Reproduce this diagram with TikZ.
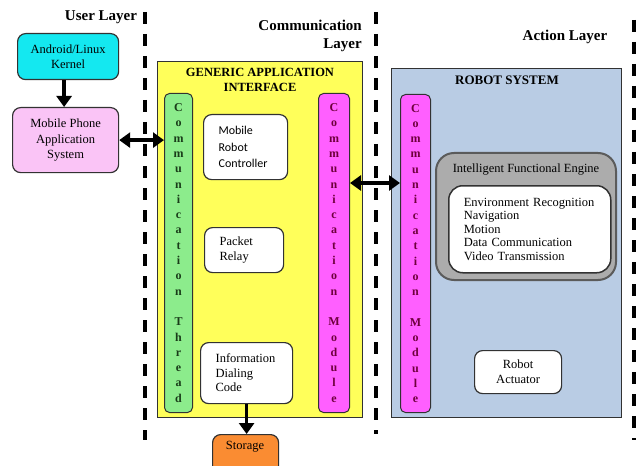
\documentclass[tikz,border=0pt]{standalone}
\usepackage{fontspec}
\setmainfont{Liberation Serif}
\newfontfamily\calibri{Carlito}
\usetikzlibrary{arrows.meta}

\definecolor{edge}{RGB}{50,50,50}
\definecolor{kernelcyan}{RGB}{20,232,240}
\definecolor{apppink}{RGB}{250,196,246}
\definecolor{gaiyellow}{RGB}{255,255,90}
\definecolor{threadgreen}{RGB}{140,236,140}
\definecolor{modmagenta}{RGB}{255,95,255}
\definecolor{storeorange}{RGB}{250,140,50}
\definecolor{robotblue}{RGB}{185,204,228}
\definecolor{enginegray}{RGB}{172,172,172}
\definecolor{threadtext}{RGB}{25,60,25}
\definecolor{modtext}{RGB}{110,0,60}

\begin{document}
\begin{tikzpicture}[x=1pt,y=-1pt,
  box/.style={draw=edge, line width=1.2pt, rounded corners=8pt, inner sep=0pt, fill=white},
  panel/.style={draw=edge, line width=1pt, inner sep=0pt},
  vbar/.style={draw=edge, line width=1pt, rounded corners=5pt, inner sep=0pt, align=center,
    font=\bfseries\fontsize{12}{15.3}\selectfont},
  layertitle/.style={font=\bfseries\fontsize{15}{18}\selectfont, inner sep=0pt},
  paneltitle/.style={font=\bfseries\fontsize{12.5}{15.5}\selectfont, inner sep=0pt, align=center},
  boxtext/.style={font=\fontsize{12.5}{14.5}\selectfont},
  leftbox/.style={box, boxtext, align=left, inner xsep=15pt, inner ysep=0pt},
  layerline/.style={line width=3.5pt, dash pattern=on 12pt off 10pt},
  flow/.style={line width=3.5pt, -{Triangle[length=11pt,width=15pt]}},
  dflow/.style={line width=3.5pt, {Triangle[length=11pt,width=15pt]}-{Triangle[length=11pt,width=15pt]}},
]
\useasboundingbox (0,0) rectangle (636,465);

% layer separators
\draw[layerline] (145,12) -- (145,440);
\draw[layerline] (376,12) -- (376,434);
\draw[layerline] (634,20) -- (634,440);

% layer titles
\node[layertitle] (userlayer) at (101,17) {User Layer};
\node[layertitle, align=right, anchor=east] (commlayer) at (362,36) {Communication\\Layer};
\node[layertitle] (actionlayer) at (565,37) {Action Layer};

% user layer
\node[box, fill=kernelcyan, boxtext, align=center, minimum width=101pt, minimum height=46pt,
  anchor=north west] (kernel) at (17,33) {Android/Linux\\Kernel};
\node[box, fill=apppink, boxtext, align=center, minimum width=106pt, minimum height=65pt,
  anchor=north west, font=\fontsize{12.5}{15.5}\selectfont] (mpas) at (12,107) {Mobile Phone\\Application\\System};

% communication layer
\node[panel, fill=gaiyellow, minimum width=205pt, minimum height=356pt, anchor=north west] (gai) at (157,61) {};
\node[paneltitle] (gaititle) at (260,80) {GENERIC APPLICATION\\INTERFACE};
\node[vbar, fill=threadgreen, text=threadtext, minimum width=28pt, minimum height=319pt,
  anchor=north west] (thread) at (164,93)
  {C\\o\\m\\m\\u\\n\\i\\c\\a\\t\\i\\o\\n\\~\\T\\h\\r\\e\\a\\d};
\node[vbar, fill=modmagenta, text=modtext, minimum width=31pt, minimum height=319pt,
  anchor=north west] (gaimod) at (318,93)
  {C\\o\\m\\m\\u\\n\\i\\c\\a\\t\\i\\o\\n\\~\\M\\o\\d\\u\\l\\e};
\node[leftbox, text width=54pt, minimum height=65pt, anchor=north west,
  font=\calibri\fontsize{12}{16.5}\selectfont] (mrc) at (203,114) {Mobile\\Robot\\Controller};
\node[leftbox, text width=49pt, minimum height=45pt, anchor=north west] (relay) at (204,227) {Packet\\Relay};
\node[leftbox, text width=62pt, minimum height=61pt, anchor=north west] (idc) at (200,342) {Information\\Dialing\\Code};
\node[box, fill=storeorange, minimum width=66pt, minimum height=40pt, anchor=north west] (storage) at (212,434) {};
\node[boxtext] (storagetext) at (245,447) {Storage};

% action layer
\node[panel, fill=robotblue, minimum width=230pt, minimum height=349pt, anchor=north west] (robot) at (391,68) {};
\node[paneltitle, font=\bfseries\fontsize{13}{15}\selectfont] (robottitle) at (507,80) {ROBOT SYSTEM};
\node[vbar, fill=modmagenta, text=modtext, minimum width=30pt, minimum height=318pt,
  anchor=north west] (robotmod) at (400,94)
  {C\\o\\m\\m\\u\\n\\i\\c\\a\\t\\i\\o\\n\\~\\M\\o\\d\\u\\l\\e};
\node[draw=edge!80, line width=2pt, fill=enginegray, rounded corners=18pt, minimum width=180pt,
  minimum height=127pt, anchor=north west, inner sep=0pt] (engine) at (435,152) {};
\node[boxtext] (enginetitle) at (526,170) {Intelligent Functional Engine};
\node[leftbox, rounded corners=14pt, line width=1.5pt, text width=132pt, minimum height=87pt,
  anchor=north west, font=\fontsize{12.5}{13.6}\selectfont] (tasks) at (448,185)
  {Environment Recognition\\Navigation\\Motion\\Data Communication\\Video Transmission};
\node[box, boxtext, align=center, minimum width=87pt, minimum height=43pt, anchor=north west,
  font=\fontsize{12.5}{15}\selectfont] (actuator) at (474,350) {Robot\\Actuator};

% connectors
\coordinate (linkrow) at (0,183);
\draw[flow] ([xshift=-4pt]kernel.south) -- ([xshift=-4pt]kernel.south |- mpas.north);
\draw[dflow] (mpas.east) -- (thread.west |- mpas.east);
\draw[dflow] (gaimod.east |- linkrow) -- (robotmod.west |- linkrow);
\draw[flow] (idc.south) -- (idc.south |- storage.north);
\end{tikzpicture}
\end{document}
